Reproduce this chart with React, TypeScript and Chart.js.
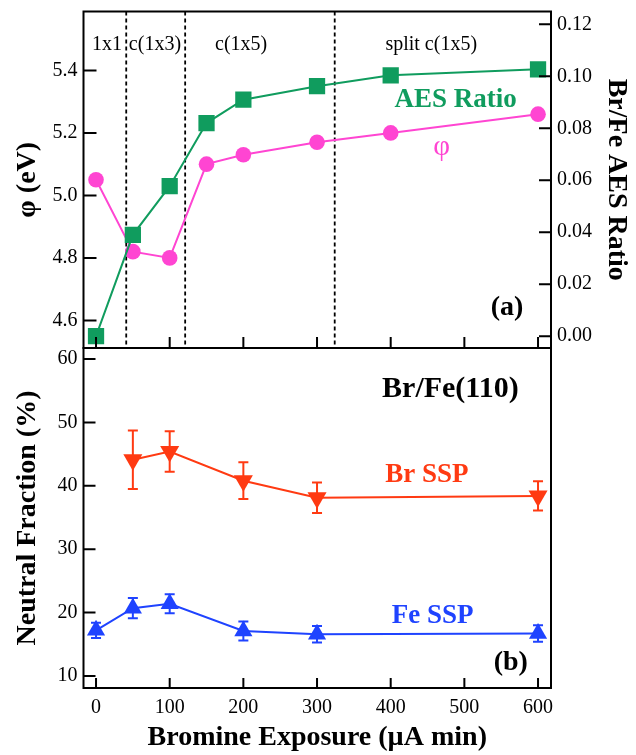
import React, { useEffect, useRef } from 'react';
import { Chart, registerables } from 'chart.js';

Chart.register(...registerables);

const SERIF = '"Liberation Serif", "Times New Roman", Times, serif';
const W = 636;
const H = 755;

// ---------- data ----------
const EXPOSURE_TOP = [0, 50, 100, 150, 200, 300, 400, 600];
const PHI_EV = [5.05, 4.82, 4.8, 5.1, 5.13, 5.17, 5.2, 5.26];
const AES_RATIO = [0.0, 0.039, 0.0577, 0.082, 0.091, 0.0962, 0.1004, 0.1027];

const EXPOSURE_BR = [50, 100, 200, 300, 600];
const BR_SSP = [44.1, 45.4, 40.8, 38.1, 38.4];
const BR_SSP_ERR = [4.6, 3.2, 2.9, 2.4, 2.3];

const EXPOSURE_FE = [0, 50, 100, 200, 300, 600];
const FE_SSP = [17.2, 20.7, 21.4, 17.1, 16.6, 16.7];
const FE_SSP_ERR = [1.2, 1.6, 1.5, 1.5, 1.3, 1.3];

const PHASE_BOUNDARIES = [41, 121, 324];
const PHASE_LABELS = ['1x1', 'c(1x3)', 'c(1x5)', 'split c(1x5)'];
const PHASE_LABEL_X = [15, 80, 197, 455];
const PHASE_LABEL_PHI = 5.466;

const X_TICKS = [0, 100, 200, 300, 400, 500, 600];
const PHI_TICKS = [4.6, 4.8, 5.0, 5.2, 5.4];
const AES_TICKS = [0, 0.02, 0.04, 0.06, 0.08, 0.1, 0.12];
const NF_TICKS = [10, 20, 30, 40, 50, 60];

const X_RANGE = [-17, 617.6];
const PHI_RANGE = [4.5116, 5.5885];
const AES_RANGE = [-0.00456, 0.12494];
const NF_RANGE = [8.11, 61.73];

// ---------- colours ----------
const GREEN = '#109c5e';
const MAGENTA = '#ff45d2';
const RED = '#ff3a12';
const BLUE = '#1f43ff';

type Note = { text: string; x: number; y: number; size: number; bold: boolean; color: string };

const TOP_NOTES: Note[] = [
  { text: 'AES Ratio', x: 488, y: 5.2844, size: 27, bold: true, color: GREEN },
  { text: 'φ', x: 469, y: 5.128, size: 29, bold: false, color: MAGENTA },
  { text: '(a)', x: 558, y: 4.616, size: 28, bold: true, color: '#000' },
];
const BOTTOM_NOTES: Note[] = [
  { text: 'Br/Fe(110)', x: 481, y: 54.05, size: 30, bold: true, color: '#000' },
  { text: 'Br SSP', x: 449, y: 40.6, size: 27, bold: true, color: RED },
  { text: 'Fe SSP', x: 457, y: 18.36, size: 27, bold: true, color: BLUE },
  { text: '(b)', x: 563, y: 10.95, size: 28, bold: true, color: '#000' },
];

const font = (size: number, bold = false) => ({ family: SERIF, size, weight: bold ? 'bold' : 'normal' });

const setTicks = (list: number[]) => (s: any) => {
  s.ticks = list.map((v) => ({ value: v }));
};

const tickFramePlugin = (xLen: number, yLen: number, y2Len: number) => ({
  id: 'tickFrame',
  afterDraw(chart: any) {
    const { ctx, chartArea: a, scales } = chart;
    ctx.save();
    ctx.strokeStyle = '#000';
    ctx.lineWidth = 2;
    ctx.beginPath();
    const xs = scales.x;
    xs.ticks.forEach((t: any) => {
      const px = xs.getPixelForValue(t.value);
      ctx.moveTo(px, a.bottom);
      ctx.lineTo(px, a.bottom - xLen);
    });
    const ys = scales.y;
    ys.ticks.forEach((t: any) => {
      const py = ys.getPixelForValue(t.value);
      ctx.moveTo(a.left, py);
      ctx.lineTo(a.left + yLen, py);
    });
    if (scales.y2) {
      const y2 = scales.y2;
      y2.ticks.forEach((t: any) => {
        const py = y2.getPixelForValue(t.value);
        ctx.moveTo(a.right, py);
        ctx.lineTo(a.right - y2Len, py);
      });
    }
    ctx.stroke();
    ctx.strokeRect(a.left, a.top, a.right - a.left, a.bottom - a.top);
    ctx.restore();
  },
});

const notesPlugin = (notes: Note[], yId: string) => ({
  id: 'notes',
  afterDatasetsDraw(chart: any) {
    const { ctx, scales } = chart;
    ctx.save();
    ctx.textAlign = 'center';
    ctx.textBaseline = 'alphabetic';
    notes.forEach((n) => {
      ctx.font = `${n.bold ? 'bold ' : ''}${n.size}px ${SERIF}`;
      ctx.fillStyle = n.color;
      ctx.fillText(n.text, scales.x.getPixelForValue(n.x), scales[yId].getPixelForValue(n.y));
    });
    ctx.restore();
  },
});

const phasePlugin = {
  id: 'phases',
  beforeDatasetsDraw(chart: any) {
    const { ctx, chartArea: a, scales } = chart;
    ctx.save();
    ctx.strokeStyle = '#000';
    ctx.lineWidth = 1.8;
    ctx.setLineDash([4, 3]);
    ctx.beginPath();
    PHASE_BOUNDARIES.forEach((b) => {
      const px = scales.x.getPixelForValue(b);
      ctx.moveTo(px, a.top);
      ctx.lineTo(px, a.bottom);
    });
    ctx.stroke();
    ctx.setLineDash([]);
    ctx.font = `20px ${SERIF}`;
    ctx.fillStyle = '#000';
    ctx.textAlign = 'center';
    ctx.textBaseline = 'alphabetic';
    PHASE_LABELS.forEach((lab, i) => {
      ctx.fillText(lab, scales.x.getPixelForValue(PHASE_LABEL_X[i]), scales.y.getPixelForValue(PHASE_LABEL_PHI));
    });
    ctx.restore();
  },
};

const errorBarPlugin = (errs: (number[] | null)[]) => ({
  id: 'errorBars',
  beforeDatasetsDraw(chart: any) {
    const { ctx } = chart;
    chart.data.datasets.forEach((ds: any, i: number) => {
      const e = errs[i];
      if (!e) return;
      const xs = chart.scales.x;
      const ys = chart.scales.y;
      ctx.save();
      ctx.strokeStyle = ds.borderColor;
      ctx.lineWidth = 2;
      ctx.beginPath();
      ds.data.forEach((p: any, j: number) => {
        const px = xs.getPixelForValue(p.x);
        const top = ys.getPixelForValue(p.y + e[j]);
        const bot = ys.getPixelForValue(p.y - e[j]);
        ctx.moveTo(px, top);
        ctx.lineTo(px, bot);
        ctx.moveTo(px - 5, top);
        ctx.lineTo(px + 5, top);
        ctx.moveTo(px - 5, bot);
        ctx.lineTo(px + 5, bot);
      });
      ctx.stroke();
      ctx.restore();
    });
  },
});

const xy = (xs: number[], ys: number[]) => xs.map((x, i) => ({ x, y: ys[i] }));

const hiddenGrid = { display: false, drawTicks: false };

export default function App() {
  const topRef = useRef<HTMLCanvasElement>(null);
  const botRef = useRef<HTMLCanvasElement>(null);

  useEffect(() => {
    const common: any = {
      responsive: false,
      animation: false,
      devicePixelRatio: 1,
      events: [],
      plugins: { legend: { display: false }, tooltip: { enabled: false } },
    };

    const top = new Chart(topRef.current as HTMLCanvasElement, {
      type: 'line',
      data: {
        datasets: [
          {
            data: xy(EXPOSURE_TOP, AES_RATIO),
            yAxisID: 'y2',
            borderColor: GREEN,
            backgroundColor: GREEN,
            borderWidth: 2,
            pointStyle: 'rect',
            pointRadius: 11.5,
            pointBorderWidth: 0,
            tension: 0,
          },
          {
            data: xy(EXPOSURE_TOP, PHI_EV),
            yAxisID: 'y',
            borderColor: MAGENTA,
            backgroundColor: MAGENTA,
            borderWidth: 2,
            pointStyle: 'circle',
            pointRadius: 7.8,
            pointBorderWidth: 0,
            tension: 0,
          },
        ],
      },
      options: {
        ...common,
        layout: { padding: { top: 7, bottom: H - 348, left: 0, right: 0 } },
        scales: {
          x: {
            type: 'linear',
            min: X_RANGE[0],
            max: X_RANGE[1],
            afterBuildTicks: setTicks(X_TICKS),
            afterFit: (s: any) => {
              s.height = 0;
              s.paddingLeft = 0;
              s.paddingRight = 0;
            },
            ticks: { display: false },
            grid: hiddenGrid,
            border: { display: false },
          },
          y: {
            type: 'linear',
            position: 'left',
            min: PHI_RANGE[0],
            max: PHI_RANGE[1],
            afterBuildTicks: setTicks(PHI_TICKS),
            afterFit: (s: any) => {
              s.width = 83.5;
              s.paddingTop = 0;
              s.paddingBottom = 0;
            },
            ticks: { font: font(20), color: '#000', padding: 6, callback: (v: any) => Number(v).toFixed(1) },
            grid: hiddenGrid,
            border: { display: false },
            title: { display: true, text: 'φ (eV)', font: font(28, true), color: '#000', padding: { top: 11, bottom: 0 } },
          },
          y2: {
            type: 'linear',
            position: 'right',
            min: AES_RANGE[0],
            max: AES_RANGE[1],
            afterBuildTicks: setTicks(AES_TICKS),
            afterFit: (s: any) => {
              s.width = W - 551;
              s.paddingTop = 0;
              s.paddingBottom = 0;
            },
            ticks: { font: font(20), color: '#000', padding: 6, callback: (v: any) => Number(v).toFixed(2) },
            grid: hiddenGrid,
            border: { display: false },
            title: { display: true, text: 'Br/Fe AES Ratio', font: font(28, true), color: '#000', padding: { top: 3, bottom: 0 } },
          },
        },
      } as any,
      plugins: [phasePlugin, notesPlugin(TOP_NOTES, 'y'), tickFramePlugin(11, 13, 12)],
    });

    const bottom = new Chart(botRef.current as HTMLCanvasElement, {
      type: 'line',
      data: {
        datasets: [
          {
            data: xy(EXPOSURE_BR, BR_SSP),
            borderColor: RED,
            backgroundColor: RED,
            borderWidth: 2,
            pointStyle: 'triangle',
            rotation: 180,
            pointRadius: 11,
            pointBorderWidth: 0,
            tension: 0,
          },
          {
            data: xy(EXPOSURE_FE, FE_SSP),
            borderColor: BLUE,
            backgroundColor: BLUE,
            borderWidth: 2,
            pointStyle: 'triangle',
            pointRadius: 10.5,
            pointBorderWidth: 0,
            tension: 0,
          },
        ],
      },
      options: {
        ...common,
        layout: { padding: { top: 348, bottom: 0, left: 0, right: W - 551 } },
        scales: {
          x: {
            type: 'linear',
            min: X_RANGE[0],
            max: X_RANGE[1],
            afterBuildTicks: setTicks(X_TICKS),
            afterFit: (s: any) => {
              s.height = H - 688;
              s.paddingLeft = 0;
              s.paddingRight = 0;
            },
            ticks: { font: font(20), color: '#000', padding: 8, maxRotation: 0, callback: (v: any) => String(v) },
            grid: hiddenGrid,
            border: { display: false },
            title: {
              display: true,
              text: 'Bromine Exposure (µA min)',
              font: font(28, true),
              color: '#000',
              padding: { top: 0, bottom: 0 },
            },
          },
          y: {
            type: 'linear',
            position: 'left',
            min: NF_RANGE[0],
            max: NF_RANGE[1],
            afterBuildTicks: setTicks(NF_TICKS),
            afterFit: (s: any) => {
              s.width = 83.5;
              s.paddingTop = 0;
              s.paddingBottom = 0;
            },
            ticks: { font: font(20), color: '#000', padding: 6, callback: (v: any) => String(v) },
            grid: hiddenGrid,
            border: { display: false },
            title: {
              display: true,
              text: 'Neutral Fraction (%)',
              font: font(28, true),
              color: '#000',
              padding: { top: 11, bottom: 0 },
            },
          },
        },
      } as any,
      plugins: [errorBarPlugin([BR_SSP_ERR, FE_SSP_ERR]), notesPlugin(BOTTOM_NOTES, 'y'), tickFramePlugin(10, 12, 0)],
    });

    return () => {
      top.destroy();
      bottom.destroy();
    };
  }, []);

  const canvasStyle: React.CSSProperties = { position: 'absolute', left: 0, top: 0, width: W, height: H };
  return (
    <div style={{ position: 'absolute', left: 0, top: 0, width: W, height: H, background: '#fff' }}>
      <canvas ref={botRef} width={W} height={H} style={canvasStyle} />
      <canvas ref={topRef} width={W} height={H} style={canvasStyle} />
    </div>
  );
}
